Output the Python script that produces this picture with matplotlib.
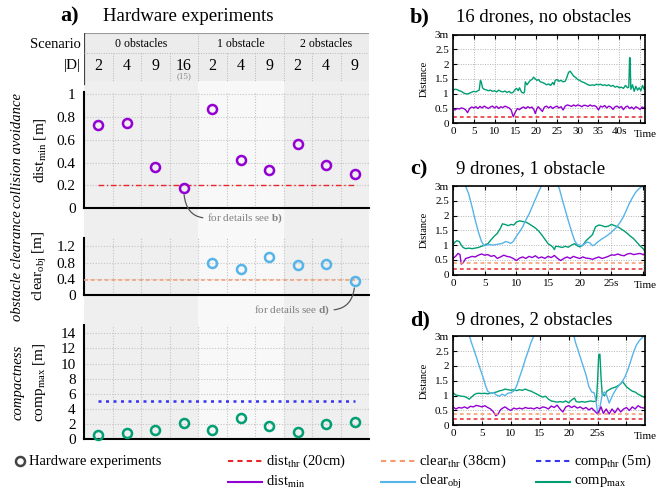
import numpy as np
import matplotlib
matplotlib.use("Agg")
import matplotlib.pyplot as plt

# fonts: Times-like serif everywhere, also inside math text
plt.rcParams['font.family'] = 'serif'
plt.rcParams['font.serif'] = ['Liberation Serif', 'DejaVu Serif']
plt.rcParams['mathtext.fontset'] = 'custom'
plt.rcParams['mathtext.rm'] = 'Liberation Serif'
plt.rcParams['mathtext.it'] = 'Liberation Serif:italic'
plt.rcParams['mathtext.bf'] = 'Liberation Serif:bold'

################################################################################
#  DATA                                                                        #
################################################################################

# a) hardware experiments, one value per column
scenarios     = ['0 obstacles', '1 obstacle', '2 obstacles']
scenario_span = [(1, 4), (5, 7), (8, 10)]
swarm_sizes   = ['2', '4', '9', '16', '2', '4', '9', '2', '4', '9']
dist_min  = [0.73, 0.75, 0.365, 0.18, 0.875, 0.42, 0.335, 0.565, 0.38, 0.305]
clear_obj = [np.nan, np.nan, np.nan, np.nan, 0.78, 0.645, 0.935, 0.75, 0.765, 0.345]
comp_max  = [0.6, 0.85, 1.2, 2.15, 1.2, 2.85, 1.75, 0.9, 2.05, 2.35]
dist_thr, clear_thr, comp_thr = 0.20, 0.38, 5.0

# b) 16 drones, no obstacles  (time [s], distance [m])
b_comp = [(0, 1.12), (0.5, 1.15), (1, 1.14), (1.5, 1.10), (2, 1.08), (2.5, 1.03),
          (3, 1.00), (3.5, 0.99), (4, 1.02), (4.5, 1.05), (5, 1.08), (5.5, 1.06),
          (6, 1.10), (6.3, 1.12), (6.6, 1.45), (6.8, 1.40), (7.1, 1.20), (7.5, 1.15),
          (8, 1.13), (8.5, 1.10), (9, 1.12), (9.5, 1.08), (10, 1.10), (10.5, 1.06),
          (11, 1.12), (11.5, 1.08), (12, 1.06), (12.5, 1.09), (13, 1.04), (13.5, 1.08),
          (14, 1.02), (14.5, 1.05), (15, 1.15), (15.3, 1.18), (15.7, 1.10), (16, 1.20),
          (16.5, 1.05), (17, 1.02), (17.2, 1.06), (17.4, 1.40), (17.8, 1.30), (18.2, 1.38),
          (18.6, 1.45), (19, 1.48), (19.4, 1.56), (19.8, 1.50), (20.2, 1.45), (20.6, 1.48),
          (21, 1.40), (21.5, 1.38), (22, 1.35), (22.5, 1.30), (23, 1.33), (23.5, 1.28),
          (24, 1.38), (24.3, 1.30), (24.6, 1.45), (25, 1.48), (25.5, 1.42), (26, 1.45),
          (26.5, 1.40), (27, 1.42), (27.4, 1.55), (27.8, 1.72), (28.2, 1.76), (28.6, 1.68),
          (29, 1.60), (29.5, 1.55), (30, 1.48), (30.5, 1.45), (31, 1.40), (31.5, 1.38),
          (32, 1.34), (32.5, 1.30), (33, 1.28), (33.5, 1.30), (34, 1.28), (34.5, 1.32),
          (35, 1.30), (35.5, 1.32), (36, 1.28), (36.5, 1.30), (37, 1.27), (37.5, 1.30),
          (38, 1.25), (38.5, 1.28), (39, 1.22), (39.5, 1.25), (40, 1.20), (40.5, 1.22),
          (41, 1.18), (41.5, 1.28), (42, 1.20), (42.3, 1.22), (42.5, 2.22), (42.6, 2.20),
          (42.8, 1.15), (43.2, 1.30), (43.6, 1.08), (44, 1.25), (44.4, 1.12), (44.8, 1.20),
          (45.2, 1.10), (45.6, 1.28), (46, 1.15), (46.2, 1.22)]
b_dist = [(0, 0.50), (0.5, 0.45), (1, 0.50), (1.5, 0.48), (2, 0.52), (2.5, 0.50),
          (3, 0.46), (3.5, 0.36), (4, 0.50), (4.5, 0.55), (5, 0.52), (5.5, 0.56),
          (6, 0.50), (6.5, 0.57), (7, 0.52), (7.5, 0.58), (8, 0.54), (8.5, 0.50),
          (9, 0.55), (9.5, 0.58), (10, 0.52), (10.5, 0.57), (11, 0.50), (11.5, 0.56),
          (12, 0.53), (12.5, 0.58), (13, 0.55), (13.5, 0.52), (14, 0.45), (14.5, 0.22),
          (15, 0.38), (15.5, 0.50), (16, 0.46), (16.5, 0.52), (17, 0.55), (17.5, 0.50),
          (18, 0.56), (18.5, 0.52), (19, 0.55), (19.5, 0.45), (19.8, 0.33), (20.2, 0.50),
          (20.5, 0.56), (21, 0.48), (21.5, 0.40), (22, 0.55), (22.5, 0.58), (23, 0.52),
          (23.5, 0.57), (24, 0.50), (24.5, 0.55), (25, 0.58), (25.5, 0.52), (26, 0.56),
          (26.5, 0.45), (27, 0.58), (27.5, 0.62), (28, 0.60), (28.5, 0.57), (29, 0.62),
          (29.5, 0.58), (30, 0.62), (30.5, 0.60), (31, 0.56), (31.5, 0.61), (32, 0.60),
          (32.5, 0.57), (33, 0.62), (33.5, 0.58), (34, 0.60), (34.5, 0.56), (35, 0.45),
          (35.5, 0.58), (36, 0.55), (36.5, 0.60), (37, 0.52), (37.5, 0.58), (38, 0.55),
          (38.5, 0.47), (39, 0.56), (39.5, 0.58), (40, 0.52), (40.5, 0.57), (41, 0.46),
          (41.5, 0.55), (42, 0.58), (42.5, 0.50), (43, 0.55), (43.5, 0.48), (44, 0.56),
          (44.5, 0.52), (45, 0.47), (45.5, 0.55), (46, 0.52), (46.2, 0.54)]

# c) 9 drones, 1 obstacle
c_comp = [(0, 1.02), (0.3, 1.10), (0.6, 1.15), (1, 1.12), (1.3, 1.00), (1.6, 0.92),
          (2, 0.88), (2.5, 0.90), (3, 0.88), (3.5, 0.90), (4, 0.92), (4.5, 0.96),
          (5, 1.00), (5.5, 1.05), (6, 1.18), (6.5, 1.30), (7, 1.40), (7.5, 1.58),
          (7.8, 1.72), (8.2, 1.70), (8.7, 1.66), (9.2, 1.70), (9.6, 1.68), (10, 1.78),
          (10.5, 1.82), (11, 1.80), (11.5, 1.78), (12, 1.72), (12.5, 1.65), (13, 1.58),
          (13.5, 1.48), (14, 1.35), (14.5, 1.20), (15, 1.05), (15.5, 0.98), (15.8, 0.92),
          (16, 0.85), (16.2, 0.96), (16.7, 0.95), (17.2, 0.92), (17.7, 0.96), (18.2, 0.93),
          (18.7, 1.00), (19.2, 1.05), (19.6, 0.98), (20, 0.94), (20.5, 1.00), (21, 1.15),
          (21.5, 1.25), (22, 1.35), (22.5, 1.62), (23, 1.68), (23.5, 1.66), (24, 1.62),
          (24.5, 1.64), (25, 1.70), (25.5, 1.66), (26, 1.62), (26.5, 1.55), (27, 1.48),
          (27.5, 1.40), (28, 1.30), (28.5, 1.22), (29, 1.10), (29.5, 0.98), (30, 0.88),
          (30.3, 0.80)]
c_clear = [(1.8, 3.1), (2.5, 2.72), (3, 2.30), (3.5, 1.85), (4, 1.45), (4.5, 1.12),
           (4.9, 0.98), (5.3, 1.00), (5.8, 1.02), (6.3, 1.00), (6.8, 1.02), (7.3, 1.04),
           (7.8, 1.06), (8.3, 1.12), (8.7, 1.10), (9.1, 1.06), (9.5, 1.12), (10, 1.30),
           (10.5, 1.45), (11, 1.62), (11.5, 1.85), (12, 2.05), (12.5, 2.30), (13, 2.55),
           (13.5, 2.80), (14, 3.02), (14.3, 3.1), (16.4, 3.1), (16.8, 2.90), (17.3, 2.50),
           (17.8, 2.12), (18.3, 1.75), (18.8, 1.40), (19.2, 1.15), (19.6, 1.02), (20, 1.00),
           (20.4, 0.98), (20.8, 1.05), (21.2, 1.10), (21.6, 1.08), (22, 0.98), (22.4, 1.02),
           (22.8, 1.10), (23.3, 1.18), (23.8, 1.25), (24.3, 1.32), (24.8, 1.40), (25.3, 1.50),
           (25.8, 1.60), (26.3, 1.75), (26.8, 1.92), (27.3, 2.15), (27.8, 2.40), (28.3, 2.60),
           (28.8, 2.78), (29.3, 2.90), (29.8, 2.98), (30.3, 3.05)]
c_dist = [(0, 0.55), (0.4, 0.62), (0.8, 0.72), (1.1, 0.68), (1.3, 0.36), (1.6, 0.40),
          (2, 0.55), (2.5, 0.58), (3, 0.62), (3.5, 0.60), (4, 0.66), (4.5, 0.70),
          (5, 0.66), (5.5, 0.68), (6, 0.62), (6.5, 0.65), (7, 0.55), (7.5, 0.60),
          (8, 0.66), (8.5, 0.62), (9, 0.60), (9.5, 0.55), (10, 0.48), (10.5, 0.56),
          (11, 0.60), (11.5, 0.55), (12, 0.62), (12.5, 0.58), (13, 0.64), (13.5, 0.56),
          (14, 0.60), (14.5, 0.55), (15, 0.62), (15.5, 0.58), (16, 0.65), (16.5, 0.55),
          (17, 0.48), (17.5, 0.55), (18, 0.60), (18.5, 0.55), (19, 0.62), (19.5, 0.58),
          (20, 0.55), (20.5, 0.60), (21, 0.56), (21.5, 0.55), (22, 0.52), (22.5, 0.56),
          (23, 0.60), (23.5, 0.55), (24, 0.58), (24.5, 0.62), (25, 0.67), (25.5, 0.66),
          (26, 0.70), (26.5, 0.66), (27, 0.64), (27.5, 0.70), (28, 0.72), (28.5, 0.68),
          (29, 0.70), (29.5, 0.72), (30, 0.68), (30.3, 0.70)]

# d) 9 drones, 2 obstacles
d_comp = [(0, 1.10), (0.5, 1.02), (1, 1.00), (1.5, 0.98), (2, 0.97), (2.5, 0.92),
          (2.8, 0.88), (3.2, 0.95), (3.6, 1.02), (4, 1.07), (4.5, 1.08), (5, 1.07),
          (5.5, 1.08), (6, 1.06), (6.5, 1.08), (7, 1.10), (7.5, 1.12), (8, 1.16),
          (8.5, 1.18), (9, 1.22), (9.5, 1.20), (10, 1.18), (10.5, 1.20), (11, 1.17),
          (11.5, 1.20), (12, 1.18), (12.5, 1.22), (13, 1.18), (13.5, 1.15), (14, 1.10),
          (14.5, 1.05), (15, 1.00), (15.5, 0.95), (16, 0.98), (16.5, 0.88), (17, 0.82),
          (17.5, 0.80), (18, 0.78), (18.5, 0.80), (19, 0.78), (19.5, 0.82), (20, 0.76),
          (20.5, 0.85), (21, 0.92), (21.3, 0.80), (21.8, 0.78), (22.3, 0.80), (22.8, 0.78),
          (23.3, 0.80), (23.8, 0.82), (24.3, 0.80), (24.8, 0.82), (25.0, 1.50), (25.2, 2.38),
          (25.4, 2.40), (25.6, 1.60), (25.8, 1.05), (26.2, 1.00), (26.6, 1.15), (27, 1.20),
          (27.5, 1.25), (28, 1.28), (28.5, 1.33), (29, 1.40), (29.3, 1.48), (29.6, 1.40),
          (30, 1.30), (30.5, 1.22), (31, 1.15), (31.5, 1.12), (32, 1.05), (32.5, 1.00),
          (33, 0.95), (33.2, 0.92)]
d_clear = [(2.7, 3.1), (3.2, 2.78), (3.7, 2.50), (4.2, 2.20), (4.7, 1.90), (5.2, 1.62),
           (5.6, 1.35), (6, 1.15), (6.5, 1.08), (7, 1.10), (7.5, 1.02), (8, 0.98),
           (8.5, 1.05), (9, 1.00), (9.5, 1.08), (10, 1.10), (10.5, 1.15), (11, 1.32),
           (11.5, 1.62), (12, 1.90), (12.5, 2.22), (13, 2.50), (13.5, 2.80), (14, 3.02),
           (14.2, 3.1), (20.8, 3.1), (21.2, 2.78), (21.6, 2.55), (22, 2.30), (22.5, 2.00),
           (23, 1.70), (23.5, 1.30), (24, 1.12), (24.4, 1.10), (24.7, 0.85), (25, 0.45),
           (25.2, 0.40), (25.5, 0.70), (25.8, 1.05), (26.2, 1.12), (26.6, 1.00), (27, 0.75),
           (27.3, 0.88), (27.7, 1.05), (28.2, 1.22), (28.7, 1.35), (29.2, 1.45), (29.7, 1.62),
           (30.2, 1.85), (30.7, 2.15), (31.2, 2.45), (31.7, 2.70), (32.2, 2.85), (32.7, 2.95),
           (33.2, 3.05)]
d_dist = [(0, 0.62), (0.5, 0.55), (1, 0.60), (1.5, 0.58), (2, 0.62), (2.5, 0.57),
          (3, 0.64), (3.5, 0.62), (4, 0.67), (4.5, 0.65), (5, 0.62), (5.5, 0.66),
          (6, 0.60), (6.5, 0.55), (7, 0.45), (7.4, 0.32), (7.8, 0.38), (8.2, 0.52),
          (8.6, 0.58), (9, 0.62), (9.5, 0.55), (10, 0.50), (10.5, 0.58), (11, 0.55),
          (11.5, 0.58), (12, 0.55), (12.5, 0.60), (13, 0.57), (13.5, 0.58), (14, 0.55),
          (14.5, 0.60), (15, 0.56), (15.5, 0.62), (16, 0.60), (16.5, 0.55), (17, 0.65),
          (17.5, 0.60), (18, 0.68), (18.5, 0.55), (19, 0.45), (19.5, 0.62), (20, 0.66),
          (20.5, 0.60), (21, 0.65), (21.5, 0.58), (22, 0.62), (22.5, 0.55), (23, 0.60),
          (23.5, 0.52), (24, 0.58), (24.5, 0.48), (25, 0.38), (25.3, 0.50), (25.6, 0.62),
          (26, 0.40), (26.5, 0.55), (27, 0.38), (27.5, 0.55), (28, 0.42), (28.5, 0.58),
          (29, 0.45), (29.5, 0.55), (30, 0.60), (30.5, 0.50), (31, 0.62), (31.5, 0.55),
          (32, 0.66), (32.5, 0.60), (33, 0.58), (33.2, 0.62)]

################################################################################
#  STYLE                                                                       #
################################################################################

W, H = 657, 491
PURPLE = '#9400d3'
BLUE   = '#56b4e9'
GREEN  = '#009e73'
RED    = '#e8262b'
ORANGE = '#f59a6e'
NAVY   = '#3535f0'
GRID   = '#c4c4c4'


def box(l, t, r, b):
    # pixel box (left, top, right, bottom) -> figure fraction rect
    return [l / W, 1 - b / H, (r - l) / W, (b - t) / H]


fig = plt.figure(figsize=(W / 100, H / 100), dpi=100)
ov = fig.add_axes([0, 0, 1, 1], zorder=20)
ov.set_xlim(0, W)
ov.set_ylim(H, 0)
ov.axis('off')
ov.patch.set_visible(False)

################################################################################
#  a) LEFT PANEL                                                               #
################################################################################

cols = np.arange(1, 11)

# background: header rows and shaded scenario groups
bg = fig.add_axes(box(84, 33, 369, 440), zorder=0)
bg.set_xlim(0.5, 10.5)
bg.set_ylim(440, 33)
bg.axis('off')
bg.fill_between([0.5, 10.5], 33, 81, color='#ececec', lw=0)
for (a, b), shade in zip(scenario_span, ['#efefef', '#f8f8f8', '#efefef']):
    bg.fill_between([a - 0.5, b + 0.5], 81, 440, color=shade, lw=0)
bg.plot([0.5, 10.5], [33, 33], color='#9a9a9a', lw=0.8)
bg.plot([0.5, 0.5], [33, 84], color='#444444', lw=1.6)
bg.plot([0.5, 10.5], [53, 53], color='#b8b8b8', lw=0.7, ls=(0, (1, 1.5)))
for (a, b), name in zip(scenario_span, scenarios):
    bg.text((a + b) / 2, 44, name, ha='center', va='center', fontsize=8.5)
    bg.plot([b + 0.5, b + 0.5], [33, 53], color='#b8b8b8', lw=0.7, ls=(0, (1, 1.5)))
for i, s in zip(cols, swarm_sizes):
    bg.text(i, 66, s, ha='center', va='center', fontsize=11.5)
    bg.plot([i + 0.5, i + 0.5], [53, 81], color='#b8b8b8', lw=0.7, ls=(0, (1, 1.5)))
bg.text(4, 76.5, '(15)', ha='center', va='center', fontsize=6.5, color='#888888')
bg.text(0.4, 44, 'Scenario', ha='right', va='center', fontsize=10.5)
bg.text(0.4, 65, '|D|', ha='right', va='center', fontsize=11)


def left_panel(rect, vals, color, top, yticks):
    ax = fig.add_axes(rect, zorder=2)
    ax.patch.set_visible(False)
    ax.plot(cols, vals, 'o', mfc='none', mec=color, mew=1.8, ms=6.5,
            clip_on=False, zorder=5)
    ax.set_xlim(0.5, 10.5)
    ax.set_ylim(0, top)
    ax.set_yticks(yticks)
    ax.set_yticklabels([f'{v:g}' for v in yticks])
    ax.set_xticks(np.arange(1.5, 11, 1))
    ax.set_xticklabels([])
    ax.grid(True, ls=(0, (1, 1.5)), color=GRID, lw=0.8)
    ax.tick_params(length=0, labelsize=11, pad=6)
    ax.spines[['top', 'right']].set_visible(False)
    ax.spines[['left', 'bottom']].set_linewidth(1.5)
    return ax


ax1 = left_panel(box(84, 92, 369, 208.3), dist_min, PURPLE, 1.02,
                 [0, 0.2, 0.4, 0.6, 0.8, 1])
ax1.hlines(dist_thr, 1, 10, color=RED, lw=1.0, ls=(0, (4, 2, 1, 2)), zorder=3)

ax2 = left_panel(box(84, 238.3, 369, 295), clear_obj, BLUE, 1.4,
                 [0, 0.4, 0.8, 1.2])
ax2.hlines(clear_thr, 0.5, 10, color=ORANGE, lw=1.1, ls=(0, (2.5, 2)), zorder=3)

ax3 = left_panel(box(84, 325, 369, 439.3), comp_max, GREEN, 15.1,
                 [0, 2, 4, 6, 8, 10, 12, 14])
ax3.hlines(comp_thr, 1, 10, color=NAVY, lw=1.8, ls=(0, (1.2, 1.8)), zorder=3)

# panel row labels
for y, cat, lab in [(150, 'collision avoidance', r'dist$_{\mathrm{min}}$ [m]'),
                    (266, 'obstacle clearance', r'clear$_{\mathrm{obj}}$ [m]'),
                    (382, 'compactness', r'comp$_{\mathrm{max}}$ [m]')]:
    ov.text(18, y, cat, rotation=90, ha='center', va='center',
            fontsize=10.5, style='italic')
    ov.text(40, y, lab, rotation=90, ha='center', va='center', fontsize=11)

# detail call-outs
note = dict(fontsize=8, color='#808080', va='center')
ax1.annotate(r'for details see $\mathbf{b)}$', xy=(4, dist_min[3]),
             xytext=(207 / W, 1 - 218 / H), textcoords='figure fraction',
             ha='left', **note,
             arrowprops=dict(arrowstyle='-', color='#555555', lw=0.9,
                             connectionstyle='angle3,angleA=0,angleB=90',
                             relpos=(0, 0.5), shrinkA=1, shrinkB=5))
ax2.annotate(r'for details see $\mathbf{d)}$', xy=(10, clear_obj[9]),
             xytext=(330 / W, 1 - 310 / H), textcoords='figure fraction',
             ha='right', **note,
             arrowprops=dict(arrowstyle='-', color='#555555', lw=0.9,
                             connectionstyle='angle3,angleA=0,angleB=90',
                             relpos=(1, 0.5), shrinkA=1, shrinkB=5))

ov.text(60, 16, 'a)', fontsize=16, fontweight='bold', ha='left', va='center')
ov.text(103, 16, 'Hardware experiments', fontsize=13.5, ha='left', va='center')

################################################################################
#  b) c) d) RIGHT PANELS                                                       #
################################################################################


def right_panel(rect, series, xmax, tick_labels, thresholds, letter, title, ty):
    ax = fig.add_axes(rect, zorder=2)
    for pts, color in series:
        t, y = np.array(pts).T
        ax.plot(t, y, color=color, lw=1.0)
    for v, color in thresholds:
        ax.axhline(v, color=color, lw=1.1, ls=(0, (2.5, 2)))
    ax.set_xlim(0, xmax)
    ax.set_ylim(0, 3)
    xt = np.arange(0, xmax, 5)
    ax.set_xticks(xt)
    ax.set_xticklabels(tick_labels[:len(xt)])
    ax.set_yticks([0, 0.5, 1, 1.5, 2, 2.5, 3])
    ax.set_yticklabels(['0', '0.5', '1', '1.5', '2', '2.5', '3m'])
    ax.grid(True, ls=(0, (1, 1.5)), color='#b4b4b4', lw=0.7)
    ax.tick_params(direction='in', top=True, right=True, length=3,
                   labelsize=8, pad=3, width=0.8)
    for s in ax.spines.values():
        s.set_linewidth(1.2)
    ax.set_ylabel('Distance', fontsize=7.5, labelpad=4)
    ax.text(1.0, -0.07, 'Time', transform=ax.transAxes, ha='center', va='top',
            fontsize=8)
    ov.text(410, ty, letter, fontsize=16, fontweight='bold', ha='left', va='center')
    ov.text(456, ty, title, fontsize=13.5, ha='left', va='center')
    return ax


right_panel(box(453, 34.5, 645, 123.3),
            [(b_comp, GREEN), (b_dist, PURPLE)], 46.2,
            ['0', '5', '10', '15', '20', '25', '30', '35', '40s', ''],
            [(dist_thr, RED)], 'b)', '16 drones, no obstacles', 17)
right_panel(box(453, 186, 645, 274.7),
            [(c_comp, GREEN), (c_clear, BLUE), (c_dist, PURPLE)], 30.3,
            ['0', '5', '10', '15', '20', '25s', ''],
            [(clear_thr, ORANGE), (dist_thr, RED)], 'c)', '9 drones, 1 obstacle', 169)
right_panel(box(453, 336.3, 645, 425.3),
            [(d_comp, GREEN), (d_clear, BLUE), (d_dist, PURPLE)], 33.2,
            ['0', '5', '10', '15', '20', '25s', ''],
            [(clear_thr, ORANGE), (dist_thr, RED)], 'd)', '9 drones, 2 obstacles', 320)

################################################################################
#  LEGEND                                                                      #
################################################################################

ov.plot([20], [461], 'o', mfc='none', mec='#444444', mew=1.8, ms=6.5)
ov.text(29, 461, 'Hardware experiments', fontsize=10.5, ha='left', va='center')
legend_items = [
    (228, 461, RED,    (0, (2.5, 2)), r'dist$_{\mathrm{thr}}$ (20cm)'),
    (381, 461, ORANGE, (0, (2.5, 2)), r'clear$_{\mathrm{thr}}$ (38cm)'),
    (536, 461, NAVY,   (0, (2.5, 2)), r'comp$_{\mathrm{thr}}$ (5m)'),
    (228, 482, PURPLE, '-',           r'dist$_{\mathrm{min}}$'),
    (381, 482, BLUE,   '-',           r'clear$_{\mathrm{obj}}$'),
    (536, 482, GREEN,  '-',           r'comp$_{\mathrm{max}}$'),
]
for x0, y0, color, ls, lab in legend_items:
    ov.plot([x0, x0 + 34], [y0, y0], color=color, ls=ls, lw=1.5)
    ov.text(x0 + 38, y0, lab, fontsize=10.5, ha='left', va='center')

fig.savefig('out.png', dpi=100)
